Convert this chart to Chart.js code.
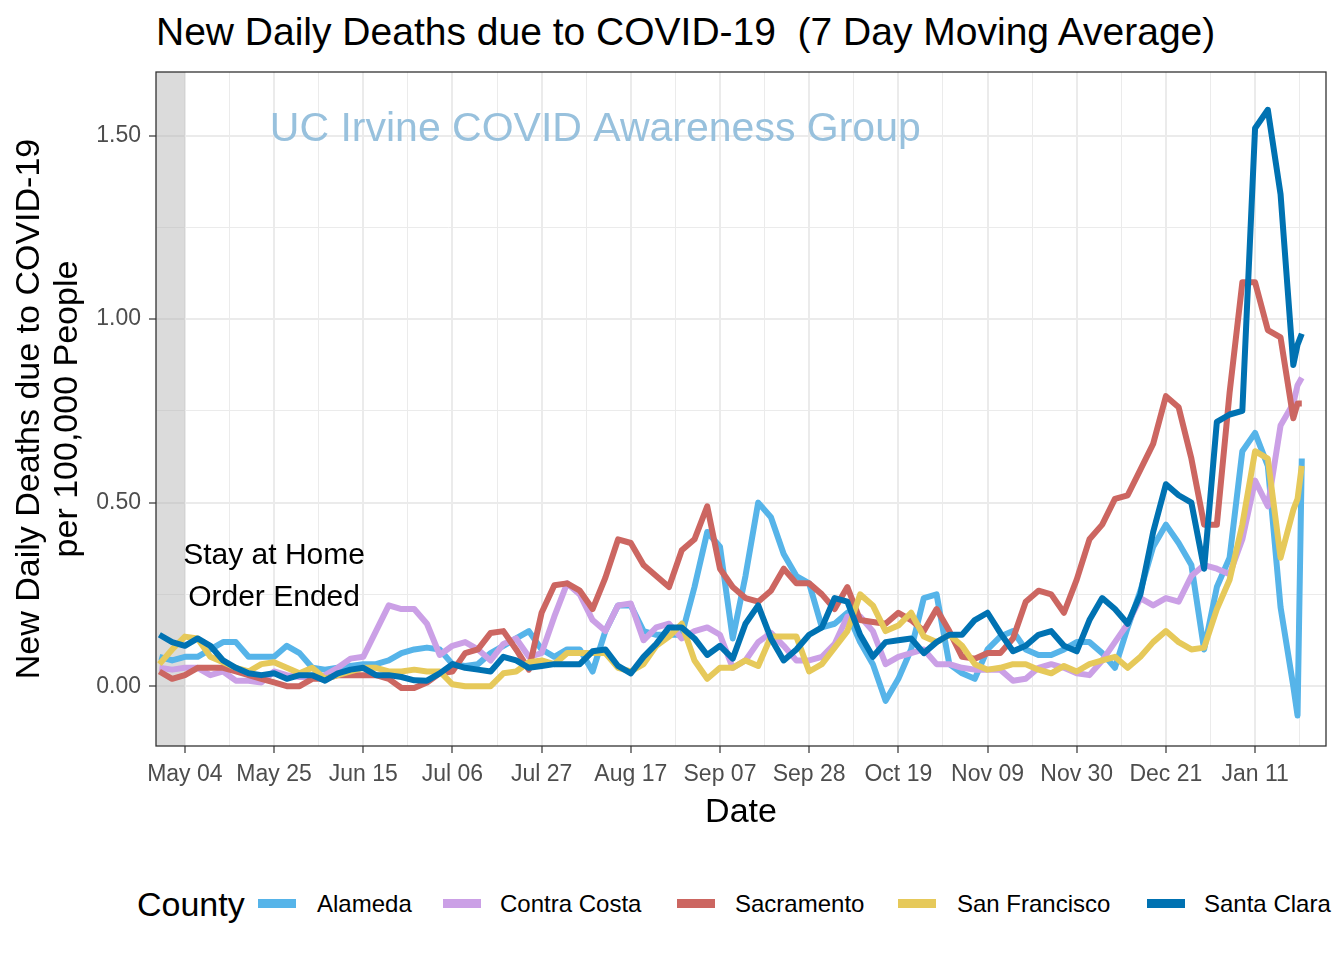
<!DOCTYPE html>
<html>
<head>
<meta charset="utf-8">
<script src="https://cdn.jsdelivr.net/npm/chart.js@4.4.0/dist/chart.umd.min.js"></script>
<style>
  body { margin: 0; background: #fff; font-family: "Liberation Sans", Arial, sans-serif; }
  #wrap { position: relative; width: 1344px; height: 960px; }
  #title { position: absolute; left: 156px; top: 12px; font-size: 39px; line-height: 1; color: #000; white-space: pre; }
  #chart { position: absolute; left: 0; top: 0; }
  .legend-title { position: absolute; left: 137px; top: 886px; font-size: 34px; line-height: 36px; }
  .key { position: absolute; top: 899px; width: 38px; height: 9px; }
  .lab { position: absolute; top: 891px; font-size: 24px; line-height: 26px; }
</style>
</head>
<body>
<div id="wrap">
  <div id="title">New Daily Deaths due to COVID-19  (7 Day Moving Average)</div>
  <canvas id="chart" width="1344" height="850"></canvas>
  <div id="legend"></div>
</div>
<script>
// days counted from May 04 2020
const days = [
  -6, -3, 0, 3, 6, 9, 12, 15, 18, 21,
  24, 27, 30, 33, 36, 39, 42, 45, 48, 51,
  54, 57, 60, 63, 66, 69, 72, 75, 78, 81,
  84, 87, 90, 93, 96, 99, 102, 105, 108, 111,
  114, 117, 120, 123, 126, 129, 132, 135, 138, 141,
  144, 147, 150, 153, 156, 159, 162, 165, 168, 171,
  174, 177, 180, 183, 186, 189, 192, 195, 198, 201,
  204, 207, 210, 213, 216, 219, 222, 225, 228, 231,
  234, 237, 240, 243, 246, 249, 252, 255, 258, 261,
  262, 263
];

const alameda = [
  0.08, 0.07, 0.08, 0.08, 0.10, 0.12, 0.12, 0.08, 0.08, 0.08,
  0.11, 0.09, 0.05, 0.045, 0.05, 0.055, 0.06, 0.06, 0.07, 0.09,
  0.10, 0.105, 0.10, 0.06, 0.055, 0.06, 0.09, 0.11, 0.13, 0.15,
  0.10, 0.08, 0.10, 0.10, 0.04, 0.15, 0.22, 0.22, 0.15, 0.14,
  0.14, 0.14, 0.27, 0.42, 0.38, 0.13, 0.30, 0.50, 0.46, 0.36,
  0.30, 0.28, 0.16, 0.17, 0.20, 0.12, 0.06, -0.04, 0.02, 0.10,
  0.24, 0.25, 0.06, 0.035, 0.02, 0.10, 0.135, 0.15, 0.10, 0.085,
  0.085, 0.10, 0.12, 0.12, 0.09, 0.05, 0.16, 0.26, 0.38, 0.44,
  0.39, 0.33, 0.10, 0.27, 0.35, 0.64, 0.69, 0.60, 0.215, 0.0,
  -0.08, 0.62
];

const contraCosta = [
  0.05, 0.045, 0.05, 0.05, 0.03, 0.04, 0.015, 0.015, 0.01, 0.04,
  0.03, 0.025, 0.025, 0.03, 0.05, 0.075, 0.08, 0.15, 0.22, 0.21,
  0.21, 0.17, 0.085, 0.11, 0.12, 0.10, 0.07, 0.115, 0.13, 0.08,
  0.09, 0.19, 0.28, 0.25, 0.18, 0.15, 0.22, 0.225, 0.125, 0.16,
  0.17, 0.13, 0.15, 0.16, 0.14, 0.05, 0.07, 0.12, 0.145, 0.11,
  0.07, 0.07, 0.08, 0.115, 0.19, 0.19, 0.15, 0.06, 0.08, 0.09,
  0.10, 0.06, 0.06, 0.05, 0.045, 0.045, 0.045, 0.015, 0.02, 0.05,
  0.06, 0.05, 0.035, 0.03, 0.07, 0.12, 0.17, 0.24, 0.22, 0.24,
  0.23, 0.30, 0.33, 0.32, 0.305, 0.40, 0.56, 0.49, 0.71, 0.77,
  0.82, 0.84
];

const sacramento = [
  0.04, 0.02, 0.03, 0.05, 0.05, 0.05, 0.04, 0.03, 0.02, 0.01,
  0.00, 0.00, 0.02, 0.02, 0.03, 0.03, 0.03, 0.03, 0.02, -0.005,
  -0.005, 0.01, 0.035, 0.04, 0.09, 0.10, 0.145, 0.15, 0.10, 0.045,
  0.20, 0.275, 0.28, 0.26, 0.21, 0.295, 0.40, 0.39, 0.33, 0.30,
  0.27, 0.37, 0.40, 0.49, 0.32, 0.27, 0.24, 0.23, 0.26, 0.32,
  0.28, 0.28, 0.25, 0.21, 0.27, 0.18, 0.175, 0.17, 0.20, 0.18,
  0.15, 0.21, 0.15, 0.08, 0.075, 0.09, 0.09, 0.13, 0.23, 0.26,
  0.25, 0.20, 0.29, 0.40, 0.44, 0.51, 0.52, 0.59, 0.66, 0.79,
  0.76, 0.62, 0.44, 0.44, 0.80, 1.10, 1.10, 0.97, 0.95, 0.73,
  0.77, 0.77
];

const sanFrancisco = [
  0.06, 0.10, 0.135, 0.13, 0.08, 0.065, 0.05, 0.04, 0.06, 0.065,
  0.05, 0.035, 0.05, 0.02, 0.03, 0.04, 0.05, 0.05, 0.04, 0.04,
  0.045, 0.04, 0.04, 0.005, 0.0, 0.0, 0.0, 0.035, 0.04, 0.065,
  0.07, 0.06, 0.09, 0.09, 0.09, 0.09, 0.05, 0.04, 0.06, 0.11,
  0.135, 0.17, 0.07, 0.02, 0.05, 0.05, 0.07, 0.055, 0.135, 0.135,
  0.135, 0.04, 0.06, 0.105, 0.15, 0.25, 0.22, 0.15, 0.165, 0.20,
  0.135, 0.12, 0.14, 0.11, 0.06, 0.045, 0.05, 0.06, 0.06, 0.045,
  0.035, 0.055, 0.04, 0.06, 0.07, 0.08, 0.05, 0.08, 0.12, 0.15,
  0.12, 0.10, 0.105, 0.21, 0.29, 0.44, 0.64, 0.62, 0.35, 0.48,
  0.51, 0.60
];

const santaClara = [
  0.14, 0.12, 0.11, 0.13, 0.11, 0.07, 0.05, 0.035, 0.03, 0.035,
  0.02, 0.03, 0.03, 0.015, 0.035, 0.045, 0.05, 0.03, 0.03, 0.025,
  0.016, 0.015, 0.035, 0.06, 0.05, 0.045, 0.04, 0.08, 0.07, 0.05,
  0.055, 0.06, 0.06, 0.06, 0.095, 0.10, 0.055, 0.035, 0.08, 0.115,
  0.16, 0.16, 0.13, 0.085, 0.11, 0.075, 0.17, 0.22, 0.13, 0.07,
  0.10, 0.14, 0.16, 0.24, 0.23, 0.14, 0.08, 0.12, 0.125, 0.13,
  0.09, 0.12, 0.14, 0.14, 0.18, 0.20, 0.145, 0.095, 0.11, 0.14,
  0.15, 0.11, 0.095, 0.18, 0.24, 0.21, 0.17, 0.25, 0.42, 0.55,
  0.52, 0.50, 0.32, 0.72, 0.74, 0.75, 1.52, 1.57, 1.34, 0.875,
  0.93, 0.96
];

const counties = ['Alameda', 'Contra Costa', 'Sacramento', 'San Francisco', 'Santa Clara'];
const series = [alameda, contraCosta, sacramento, sanFrancisco, santaClara];
const colors = ['#56B4E9', '#CBA0E6', '#CC6661', '#E6C95A', '#0072B2'];

const xTickDays = [0, 21, 42, 63, 84, 105, 126, 147, 168, 189, 210, 231, 252];
const xTickLabels = ['May 04', 'May 25', 'Jun 15', 'Jul 06', 'Jul 27', 'Aug 17', 'Sep 07',
  'Sep 28', 'Oct 19', 'Nov 09', 'Nov 30', 'Dec 21', 'Jan 11'];
const yTickValues = [0, 0.5, 1.0, 1.5];

const FONT = '"Liberation Sans", Arial, sans-serif';
Chart.defaults.font.family = FONT;

// gridlines: majors plus ggplot style minors half way between
const xGrid = [];
xTickDays.forEach(d => { xGrid.push(d); xGrid.push(d + 10.5); });
const yGrid = [0, 0.25, 0.5, 0.75, 1.0, 1.25, 1.5];

const isXMajor = v => xTickDays.indexOf(v) >= 0;
const isYMajor = v => yTickValues.some(t => Math.abs(t - v) < 1e-6);

const decor = {
  id: 'decor',
  beforeDatasetsDraw(chart) {
    const {ctx, chartArea: a, scales: {x, y}} = chart;
    ctx.save();
    // shaded stay-at-home period
    ctx.fillStyle = 'rgba(175,175,175,0.45)';
    ctx.fillRect(a.left, a.top, x.getPixelForValue(0) - a.left, a.bottom - a.top);
    // watermark
    ctx.font = '41px ' + FONT;
    ctx.fillStyle = '#98C1DD';
    ctx.textAlign = 'left';
    ctx.textBaseline = 'middle';
    ctx.fillText('UC Irvine COVID Awareness Group', x.getPixelForValue(20), y.getPixelForValue(1.515));
    // annotation
    ctx.font = '30px ' + FONT;
    ctx.fillStyle = '#000';
    ctx.textAlign = 'center';
    ctx.fillText('Stay at Home', x.getPixelForValue(21), y.getPixelForValue(0.355));
    ctx.fillText('Order Ended', x.getPixelForValue(21), y.getPixelForValue(0.24));
    ctx.restore();
  },
  afterDatasetsDraw(chart) {
    const {ctx, chartArea: a} = chart;
    ctx.save();
    ctx.strokeStyle = '#333333';
    ctx.lineWidth = 1.3;
    ctx.strokeRect(a.left, a.top, a.right - a.left, a.bottom - a.top);
    ctx.restore();
  }
};

const datasets = counties.map((name, k) => ({
  label: name,
  data: days.map((d, i) => ({x: d, y: series[k][i]})),
  borderColor: colors[k],
  backgroundColor: colors[k],
  order: counties.length - 1 - k
}));

new Chart(document.getElementById('chart'), {
  type: 'line',
  data: {datasets: datasets},
  options: {
    responsive: false,
    animation: false,
    devicePixelRatio: 1,
    layout: {padding: {left: 0, right: 18, top: 72, bottom: 0}},
    plugins: {legend: {display: false}, tooltip: {enabled: false}},
    elements: {
      point: {radius: 0},
      line: {borderWidth: 6, tension: 0, borderJoinStyle: 'round', borderCapStyle: 'butt'}
    },
    scales: {
      x: {
        type: 'linear',
        min: -6.8,
        max: 268.7,
        afterBuildTicks: s => { s.ticks = xGrid.map(v => ({value: v})); },
        afterFit: s => { s.height = 104; },
        border: {display: false},
        grid: {
          color: '#ebebeb',
          lineWidth: c => isXMajor(c.tick.value) ? 2 : 1,
          tickLength: 7,
          tickWidth: 1.2,
          tickColor: c => isXMajor(c.tick.value) ? '#333333' : 'rgba(0,0,0,0)'
        },
        ticks: {
          autoSkip: false,
          maxRotation: 0,
          padding: 8,
          color: '#4d4d4d',
          font: {size: 23},
          callback: v => { const i = xTickDays.indexOf(v); return i >= 0 ? xTickLabels[i] : ''; }
        },
        title: {display: true, text: 'Date', color: '#000', font: {size: 34}, padding: {top: 0, bottom: 17}}
      },
      y: {
        min: -0.163,
        max: 1.673,
        afterBuildTicks: s => { s.ticks = yGrid.map(v => ({value: v})); },
        afterFit: s => { s.width = 156; },
        border: {display: false},
        grid: {
          color: '#ebebeb',
          lineWidth: c => isYMajor(c.tick.value) ? 2 : 1,
          tickLength: 7,
          tickWidth: 1.2,
          tickColor: c => isYMajor(c.tick.value) ? '#333333' : 'rgba(0,0,0,0)'
        },
        ticks: {
          autoSkip: false,
          padding: 8,
          color: '#4d4d4d',
          font: {size: 23},
          callback: v => isYMajor(v) ? v.toFixed(2) : ''
        },
        title: {
          display: true,
          text: ['New Daily Deaths due to COVID-19', 'per 100,000 People'],
          color: '#000',
          font: {size: 34, lineHeight: 1.12},
          padding: {top: 11, bottom: 0}
        }
      }
    }
  },
  plugins: [decor]
});

// legend laid out like the ggplot legend
const legend = document.getElementById('legend');
const keyLeft = [258, 443, 677, 898, 1147];
const labLeft = [317, 500, 735, 957, 1204];
legend.innerHTML = '<div class="legend-title">County</div>' + counties.map((name, k) =>
  '<div class="key" style="left:' + keyLeft[k] + 'px;background:' + colors[k] + '"></div>' +
  '<div class="lab" style="left:' + labLeft[k] + 'px">' + name + '</div>').join('');
</script>
</body>
</html>
